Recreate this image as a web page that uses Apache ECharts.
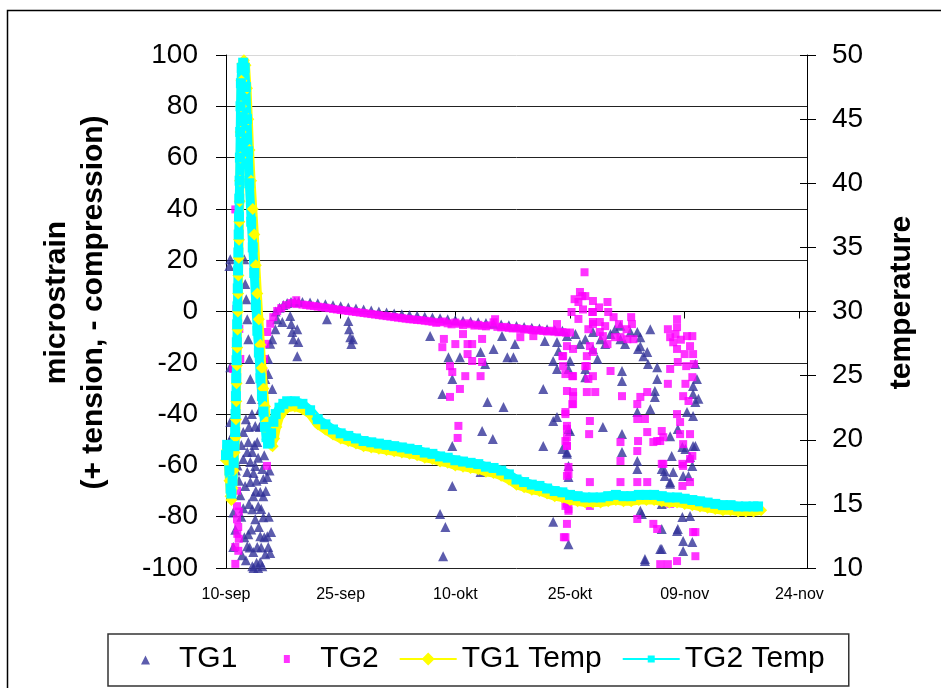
<!DOCTYPE html>
<html>
<head>
<meta charset="utf-8">
<script src="https://cdn.jsdelivr.net/npm/echarts@6/dist/echarts.min.js"></script>
<style>
	html, body { margin: 0; padding: 0; background: #fff; }
	#myChart { width: 941px; height: 688px; }
</style>
</head>
<body>
<div id="myChart"></div>
<script>
	// x = days after 10-sep
	var xTicks = ['10-sep', '25-sep', '10-okt', '25-okt', '09-nov', '24-nov'];

	var tg1 = [
		[0.43, 17.7], [0.56, 20.4], [0.56, -21.7], [0.56, -43.1], [0.78, -48.4], [0.95, -47.8], [0.95, -53.6], [0.95, -78.4], [0.95, -91.8], [1.22, -85.1], [1.87, -71.6],
		[2.26, -47.0], [2.26, -57.5], [2.26, -76.7], [2.39, 20.4], [2.52, 10.7], [2.65, 4.8], [2.78, -3.0], [2.78, -54.8], [2.78, -62.6], [2.78, -91.5], [2.92, -10.8], [2.92, -50.9], [2.92, -86.8],
		[3.05, -18.5], [3.18, -26.3], [3.18, -58.7], [3.18, -66.5], [3.31, -34.1], [3.44, -54.8], [3.44, -77.1], [3.44, -99.3], [3.57, -72.0], [3.57, -93.8], [3.83, -44.6], [3.83, -60.2], [3.83, -81.0],
		[4.09, -50.9], [4.09, -91.8], [4.22, -75.9], [4.48, -70.4], [4.48, -87.6], [4.48, -97.7], [4.75, -34.1], [4.75, -61.4], [4.75, -99.3], [4.88, -30.2], [4.88, -65.3], [4.88, -72.0], [4.88, -80.2],
		[5.14, -26.3], [5.14, -94.6], [5.40, -64.5], [5.40, -87.6], [5.53, -18.5], [5.53, -24.4], [5.53, -91.8], [5.79, -12.6], [5.79, -94.2], [6.05, -10.8], [6.05, -30.2], [6.45, -6.9], [6.7, -3.0], [7.37, -4.1],
		[1.5, -60.0], [1.7, -66.0], [2.0, -80.0], [2.1, -95.0], [2.4, -88.0], [2.5, -68.0], [2.6, -97.0], [3.0, -75.0], [3.0, -45.0], [3.3, -85.0], [3.6, -63.0], [3.7, -52.0], [3.9, -70.0],
		[4.0, -98.0], [4.2, -57.0], [4.3, -84.0], [4.4, -45.0], [4.6, -77.0], [4.6, -92.0], [5.0, -56.0], [5.0, -88.0], [5.2, -70.0], [5.3, -48.0], [5.6, -80.0], [5.7, -62.0], [2.0, -52.0],
		[1.3, -62.0], [3.1, -92.0], [4.0, -66.0], [5.9, -86.0], [3.4, -40.0], [4.5, -38.0], [5.0, -42.0], [2.6, -42.0], [3.6, -100.0], [4.2, -100.0],
		[8.4, -1.8], [8.54, -4.9], [8.67, -8.0], [8.8, -10.8], [9.32, -6.9], [9.46, -11.9], [9.32, -17.4], [13.2, -3.0], [16.0, -3.7], [16.1, -6.9], [16.25, -10.0], [16.4, -12.7], [16.6, -10.8],
		[6.5, 0.0], [7, 1.5], [7.5, 2.5], [8, 3.3], [8.5, 3.7], [9, 3.8], [9.5, 3.8], [10, 3.7], [11, 3.5], [12, 3.2], [13, 2.8], [14, 2.4], [15, 2.0], [16, 1.6], [17, 1.2], [18, 0.8], [19, 0.4], [20, 0.0],
		[21, -0.4], [22, -0.8], [23, -1.1], [24, -1.4], [25, -1.7], [26, -2.0], [27, -2.3], [28, -2.6], [29, -3.0], [30, -3.3], [31, -3.6], [32, -3.9], [33, -4.2], [34, -4.5], [35, -4.8],
		[36, -5.1], [37, -5.4], [38, -5.7], [39, -6.0], [40, -6.3], [41, -6.6], [42, -6.9], [43, -7.2], [44, -7.5],
		[26.7, -9.6], [29.1, -17.8], [30.6, -17.8], [29.6, -26.3], [28.3, -32.2], [33.3, -15.8], [33.9, -20.5], [35.0, -14.6], [34.2, -35.3], [36.3, -37.2], [36.8, -17.8], [37.6, -17.8], [37.8, -12.7],
		[36.1, -9.6], [33.5, -46.6], [34.9, -49.7], [29.6, -52.4], [29.6, -68.0], [28.0, -78.9], [28.7, -84.0], [28.4, -95.4], [41.5, -30.2], [41.5, -52.4], [42.8, -42.7], [43.3, -41.1], [42.8, -82.0],
		[44.0, -53.6], [44.6, -55.5], [44.8, -60.2], [44.8, -64.5], [44.8, -90.7], [45.0, -46.6], [41.7, -11.5], [43.3, -11.9], [43.5, -15.4], [42.8, -19.3], [43.3, -22.4], [44.8, -22.4], [45.0, -19.3],
		[47.0, -22.4], [47.0, -25.6], [48.6, -18.5], [48.0, -8.0], [33.3, -62.6], [44.8, -45.8], [44.6, -54.8],
		[44.6, -9.6], [45.7, -8.8], [46.3, -12.7], [47.0, -10.8], [48.0, -14.6], [49.0, -10.8], [49.6, -12.7], [50.3, -8.8], [50.9, -6.9], [51.6, -10.8], [52.2, -12.7], [52.9, -8.0], [53.8, -8.0], [54.6, -17.4], [55.5, -6.9],
		[51.6, -5.6], [54.2, -10.0], [54.2, -13.5], [55.1, -15.8], [55.2, -20.5], [56.4, -21.7], [51.8, -23.2], [51.8, -27.1], [56.4, -26.3], [56.1, -31.0], [56.1, -33.3], [55.5, -38.0], [53.8, -39.2],
		[49.3, -45.0], [51.8, -47.8], [51.8, -54.8], [53.8, -58.3], [53.8, -61.4], [58.1, -48.6], [58.3, -56.3], [57.0, -61.4], [57.4, -64.1], [58.1, -66.5], [59.1, -45.8], [60.1, -53.6], [60.7, -56.7],
		[61.0, -60.2], [59.8, -64.1], [60.5, -64.1], [61.4, -52.4], [61.1, -40.7], [61.4, -35.3], [61.1, -32.2], [61.1, -29.0], [60.3, -39.2], [54.4, -78.9], [57.0, -84.8], [56.8, -92.6], [54.8, -96.5],
		[59.1, -84.8], [59.7, -80.1], [60.7, -79.7], [59.8, -89.5], [61.0, -89.9], [59.8, -93.4], [57.0, -75.0], [53.9, -14.6], [57.4, -62.2], [58.5, -62.6], [61.1, -52.4], [59.7, -52.8], [58.1, -67.2],
		[59.0, -85.6], [57.0, -92.6], [54.2, -77.7], [54.8, -97.3], [61.4, -20.5], [61.6, -26.3], [61.8, -34.0]
	];

	var tg2 = [
		[1.22, -98.4], [1.61, -93.3], [1.48, -86.7], [1.67, -88.6], [1.44, -81.0], [1.44, -75.9], [1.22, -91.8], [1.44, -69.9], [1.67, -78.0], [1.6, -84.0],
		[1.22, 39.8], [1.6, 28.0], [1.5, 8.7], [1.74, -6.8], [1.87, -18.5], [0.95, -22.4], [1.35, 1.0], [5.36, -60.2],
		[4.88, -23.6], [5.0, -18.5], [5.14, -12.6], [5.4, -8.0], [5.79, -4.8], [6.18, -2.2], [6.7, 0.2], [7.23, 1.3], [7.88, 2.5], [8.54, 3.3], [9.19, 4.4], [9.19, 2.9],
		[10, 2.7], [10.5, 2.5], [11, 2.3], [11.5, 2.1], [12, 1.9], [12.5, 1.7], [13, 1.5], [13.5, 1.3], [14, 1.0], [14.5, 0.8], [15, 0.6], [15.5, 0.4], [16, 0.2], [16.5, 0.0],
		[17, -0.2], [17.5, -0.4], [18, -0.6], [18.5, -0.8], [19, -1.0], [19.5, -1.2], [20, -1.4], [20.5, -1.6], [21, -1.8], [21.5, -2.0], [22, -2.2], [22.5, -2.4], [23, -2.6], [23.5, -2.8],
		[24, -3.0], [24.5, -3.1], [25, -3.3], [25.5, -3.4], [26, -3.6], [26.5, -3.8], [27, -4.0], [27.5, -4.4], [28, -4.2], [28.5, -3.9], [29, -4.6], [29.5, -5.0], [30, -4.3], [30.5, -4.8],
		[31, -5.3], [31.5, -4.6], [32, -5.0], [32.5, -5.5], [33, -5.2], [33.5, -5.6], [34, -5.8], [34.5, -5.4], [35, -4.2], [35.5, -6.0], [36, -6.2], [36.5, -6.0], [37, -6.4], [37.5, -6.6],
		[38, -6.5], [38.5, -6.8], [39, -7.0], [39.5, -6.9], [40, -7.2], [40.5, -7.4], [41, -7.3], [41.5, -7.6], [42, -7.8], [42.5, -7.5], [43, -7.9], [43.5, -8.1], [44, -8.0], [44.5, -8.3], [45, -8.2],
		[28.5, -10.7], [28.3, -13.9], [29.3, -21.3], [29.6, -23.6], [29.3, -33.3], [30.6, -30.2], [30.0, -12.7], [31.0, -8.8], [31.6, -12.7], [32.2, -12.7], [31.6, -16.6], [32.2, -19.3], [33.5, -19.7],
		[33.3, -25.2], [31.3, -25.2], [33.5, -10.7], [30.4, -44.6], [30.3, -49.3], [35.2, -3.0], [38.5, -10.0], [40.2, -9.6], [43.3, -4.9],
		[44.0, -17.4], [44.1, -21.3], [44.4, -24.4], [45.3, -25.2], [45.4, -31.4], [45.3, -36.1], [44.4, -40.0], [44.6, -44.6], [44.4, -50.5], [44.6, -52.4], [44.8, -63.4], [44.4, -75.8], [44.8, -77.0],
		[44.6, -82.8], [44.2, -88.0], [47.2, -17.4], [47.0, -21.3], [47.4, -26.3], [47.2, -31.4], [47.6, -42.7], [47.5, -47.8], [47.6, -66.5], [47.6, -75.8], [48.0, -15.8], [48.0, -4.1], [47.9, -0.2],
		[46.3, 7.6], [46.9, 15.3], [46.6, 6.0], [47.0, 6.0], [46.1, 3.7], [48.0, 4.1], [48.0, -0.2], [49.9, 3.7], [50.0, -0.2], [49.6, -5.7], [48.9, -4.1], [48.0, -4.9], [49.3, -9.6], [49.9, -12.7],
		[51.6, -10.0], [52.5, -10.8], [53.1, -4.9], [53.3, -10.8], [47.6, -13.5], [47.2, -21.3], [48.0, -25.2], [48.3, -31.4], [51.8, -33.0], [50.3, -23.2], [45.4, -14.6], [44.6, -13.5], [44.1, -17.4],
		[45.4, -25.2], [44.6, -31.0], [45.4, -33.0], [45.4, -36.1], [44.4, -39.2], [44.6, -45.8], [44.6, -49.0], [44.6, -52.4], [44.8, -60.6], [44.6, -64.1], [44.6, -75.0], [44.8, -77.7], [44.4, -88.0],
		[45.6, 4.8], [46.7, 0.8], [48.8, 1.6], [50.7, -2.2], [51.4, -4.9], [52.4, -6.9], [53.0, -2.2], [48.9, -8.0], [50.9, -10.0], [47.4, -6.9], [46.1, -2.9], [45.2, -0.2],
		[53.8, -36.1], [54.2, -33.3], [55.1, -31.4], [53.8, -41.9], [54.8, -41.9], [55.1, -47.0], [55.9, -50.9], [56.4, -50.5], [56.8, -50.5], [57.2, -49.0], [57.0, -46.6], [53.9, -50.5], [53.8, -54.4],
		[51.6, -50.9], [51.6, -58.3], [51.6, -66.5], [53.8, -66.5], [55.1, -66.5], [53.8, -80.9], [55.9, -82.8], [56.4, -84.8], [56.8, -98.5], [57.8, -98.5], [59.0, -97.3], [57.2, -59.4],
		[57.8, -6.9], [58.1, -10.0], [59.0, -3.0], [59.0, -14.6], [59.1, -19.7], [58.1, -22.4], [57.8, -28.2], [60.3, -9.6], [61.0, -9.6], [60.7, -13.5], [61.1, -16.6], [61.0, -25.6], [60.1, -28.2],
		[59.8, -33.0], [60.5, -34.9], [59.0, -40.0], [59.4, -43.1], [60.7, -47.8], [59.4, -47.8], [59.8, -51.7], [61.0, -56.3], [59.8, -60.2], [60.7, -66.5], [61.4, -86.0], [61.4, -95.4], [59.0, -6.1],
		[61.1, -86.0], [58.1, -75.0], [59.7, -68.0], [60.7, -57.5], [59.7, -59.4], [57.0, -59.4], [58.5, -12.0], [59.5, -11.0], [60.0, -16.6], [58.8, -8.8], [61.2, -20.5], [60.2, -21.3]
	];

	var tg1Temp = [
		[0.0, 18.4], [0.15, 19.2], [0.3, 18.4], [0.45, 16.8], [0.6, 15.6], [0.7, 15.3], [0.85, 16.2], [1.0, 17.6], [1.12, 19.0], [1.25, 20.2], [1.3, 21.6], [1.35, 23.0], [1.39, 24.4],
		[1.43, 25.8], [1.47, 27.2], [1.51, 28.6], [1.55, 30.0], [1.59, 31.4], [1.63, 32.8], [1.67, 34.2], [1.71, 35.6], [1.75, 37.0], [1.79, 38.6], [1.83, 40.2], [1.87, 42.0], [1.91, 44.0],
		[1.96, 46.0], [2.02, 48.0], [2.15, 49.3], [2.35, 49.6], [2.55, 49.2], [2.75, 47.4], [2.92, 45.0], [3.08, 42.6], [3.28, 40.2], [3.5, 38.0], [3.7, 36.0], [3.9, 33.6], [4.1, 31.4], [4.3, 29.4],
		[4.5, 27.4], [4.7, 25.6], [4.9, 24.0], [5.1, 22.6], [5.3, 21.4], [5.5, 20.6], [5.7, 20.0], [5.9, 19.6], [6.1, 19.5], [6.3, 20.1], [6.6, 21.0], [7.0, 21.8], [7.5, 22.2], [8.0, 22.5],
		[9.0, 22.6], [10.0, 22.4], [11.0, 22.0], [12.0, 21.2], [13.0, 20.8], [14.0, 20.4], [15.0, 20.1], [16.0, 19.9], [17.0, 19.7], [18.0, 19.5], [19.0, 19.4], [20.0, 19.3], [21.0, 19.2],
		[22.0, 19.1], [23.0, 19.0], [24.0, 18.9], [25.0, 18.8], [26.0, 18.6], [27.0, 18.5], [28.0, 18.3], [29.0, 18.2], [30.0, 18.0], [31.0, 17.9], [32.0, 17.8], [33.0, 17.7], [34.0, 17.5],
		[35.0, 17.4], [36.0, 17.2], [37.0, 16.9], [38.0, 16.5], [39.0, 16.3], [40.0, 16.1], [41.0, 16.0], [42.0, 15.8], [43.0, 15.6], [44.0, 15.5], [45.0, 15.3], [46.0, 15.2], [47.0, 15.1],
		[48.0, 15.1], [49.0, 15.1], [50.0, 15.2], [51.0, 15.3], [52.0, 15.2], [53.0, 15.2], [54.0, 15.3], [55.0, 15.3], [56.0, 15.3], [57.0, 15.2], [58.0, 15.1], [59.0, 15.1], [60.0, 15.0],
		[61.0, 14.9], [62.0, 14.8], [63.0, 14.7], [64.0, 14.6], [65.0, 14.5], [66.0, 14.5], [67.0, 14.4], [68.0, 14.4], [69.0, 14.4], [70.0, 14.5]
	];

	var tg2Temp = [
		[0.0, 18.8], [0.15, 19.6], [0.3, 19.0], [0.45, 17.6], [0.6, 16.2], [0.7, 15.8], [0.85, 16.8], [1.0, 18.2], [1.1, 19.5], [1.2, 20.6], [1.25, 22.0], [1.3, 23.4], [1.34, 24.8],
		[1.38, 26.2], [1.42, 27.6], [1.46, 29.0], [1.5, 30.4], [1.54, 31.8], [1.58, 33.2], [1.62, 34.6], [1.66, 36.0], [1.7, 37.4], [1.74, 38.8], [1.78, 40.2], [1.82, 42.0], [1.86, 44.0],
		[1.9, 46.0], [1.95, 47.8], [2.05, 49.0], [2.25, 49.4], [2.45, 49.0], [2.6, 47.5], [2.75, 45.0], [2.9, 42.5], [3.05, 40.0], [3.3, 37.0], [3.5, 35.0], [3.7, 33.0], [3.9, 30.5], [4.1, 28.5],
		[4.3, 26.8], [4.5, 24.8], [4.7, 23.4], [4.9, 22.2], [5.1, 21.0], [5.3, 20.2], [5.5, 19.7], [5.7, 19.8], [5.9, 20.5], [6.2, 21.4], [6.5, 22.0], [7.0, 22.5], [7.5, 22.8], [8.0, 23.0],
		[9.0, 23.0], [10.0, 22.8], [11.0, 22.3], [12.0, 21.6], [13.0, 21.2], [14.0, 20.8], [15.0, 20.5], [16.0, 20.3], [17.0, 20.1], [18.0, 19.9], [19.0, 19.8], [20.0, 19.7], [21.0, 19.6],
		[22.0, 19.5], [23.0, 19.4], [24.0, 19.3], [25.0, 19.2], [26.0, 19.0], [27.0, 18.9], [28.0, 18.7], [29.0, 18.6], [30.0, 18.4], [31.0, 18.3], [32.0, 18.2], [33.0, 18.1], [34.0, 17.9],
		[35.0, 17.8], [36.0, 17.6], [37.0, 17.3], [38.0, 16.9], [39.0, 16.7], [40.0, 16.5], [41.0, 16.4], [42.0, 16.2], [43.0, 16.0], [44.0, 15.9], [45.0, 15.7], [46.0, 15.6], [47.0, 15.5],
		[48.0, 15.5], [49.0, 15.5], [50.0, 15.6], [51.0, 15.7], [52.0, 15.6], [53.0, 15.6], [54.0, 15.7], [55.0, 15.7], [56.0, 15.7], [57.0, 15.6], [58.0, 15.5], [59.0, 15.5], [60.0, 15.4],
		[61.0, 15.3], [62.0, 15.2], [63.0, 15.1], [64.0, 15.0], [65.0, 14.9], [66.0, 14.9], [67.0, 14.8], [68.0, 14.8], [69.0, 14.8], [69.6, 14.8]
	];

	var font = 'Liberation Sans, Arial, sans-serif';
	var gridColors = ['#222', '#222', '#222', '#222', '#222', '#222', '#222', '#222', '#222', '#222', '#d8d8d8'];

	var myChart = echarts.init(document.getElementById('myChart'), null, { renderer: 'canvas' });
	myChart.setOption({
		animation: false,
		backgroundColor: '#fff',
		textStyle: { fontFamily: font },
		graphic: [{
			type: 'rect',
			shape: { x: 7.5, y: 10.5, width: 1000, height: 1000 },
			style: { fill: 'none', stroke: '#000', lineWidth: 1.5 },
			silent: true
		}],
		grid: {
			left: 226,
			right: 134,
			top: 55,
			bottom: 120,
			containLabel: false,
			outerBoundsMode: 'none'
		},
		legend: {
			left: 108,
			top: 634,
			padding: [10, 24, 12, 9],
			borderColor: '#333',
			borderWidth: 1.5,
			itemWidth: 57,
			itemHeight: 14,
			itemGap: 21,
			textStyle: { fontSize: 30, color: '#000', fontFamily: font },
			data: [
				{ name: 'TG1', icon: 'path://M0,0M57,14M24,12.5L28.5,3.5L33,12.5Z' },
				{ name: 'TG2', icon: 'path://M0,0M57,14M25.5,3L31.5,3L31.5,11L25.5,11Z' },
				{ name: 'TG1 Temp', icon: 'path://M0,0M57,14M0,6L57,6L57,8L0,8Z M22,7L28.5,0.5L35,7L28.5,13.5Z' },
				{ name: 'TG2 Temp', icon: 'path://M0,0M57,14M0,6L57,6L57,8L0,8Z M25,3.5L32,3.5L32,10.5L25,10.5Z' }
			]
		},
		xAxis: {
			type: 'value',
			min: 0,
			max: 76,
			interval: 15,
			axisLine: { lineStyle: { color: '#000', width: 1 } },
			axisTick: { length: 7, lineStyle: { color: '#000' }, customValues: [0, 15, 30, 45, 60, 75] },
			axisLabel: {
				customValues: [0, 15, 30, 45, 60, 75],
				formatter: function(v) { return xTicks[Math.round(v / 15)]; },
				fontSize: 16,
				color: '#000',
				margin: 19
			},
			splitLine: { show: false }
		},
		yAxis: [{
				type: 'value',
				position: 'left',
				min: -100,
				max: 100,
				interval: 20,
				name: 'microstrain\n(+ tension, - compression)',
				nameLocation: 'middle',
				nameRotate: 90,
				nameGap: 114,
				nameTextStyle: { fontSize: 30, fontWeight: 'bold', color: '#000', lineHeight: 37, fontFamily: font, padding: [0, 0, 0, 18] },
				axisLine: { show: true, lineStyle: { color: '#000' } },
				axisTick: { show: true, length: 10, lineStyle: { color: '#000' } },
				axisLabel: { fontSize: 28, color: '#000', margin: 28 },
				splitLine: { show: true, lineStyle: { color: gridColors, width: 1 } }
			},
			{
				type: 'value',
				position: 'right',
				min: 10,
				max: 50,
				interval: 5,
				name: 'temperature',
				nameLocation: 'middle',
				nameRotate: 90,
				nameGap: 80,
				nameTextStyle: { fontSize: 30, fontWeight: 'bold', color: '#000', fontFamily: font, padding: [0, 0, 0, 18] },
				axisLine: { show: true, lineStyle: { color: '#000' } },
				axisTick: { show: true, length: 9, lineStyle: { color: '#000' } },
				axisLabel: { fontSize: 28, color: '#000', margin: 25 },
				splitLine: { show: false }
			},
			{
				type: 'value',
				position: 'right',
				min: 10,
				max: 50,
				interval: 5,
				axisLine: { show: false },
				axisTick: { show: true, inside: true, length: 7, lineStyle: { color: '#000' } },
				axisLabel: { show: false },
				splitLine: { show: false }
			}
		],
		series: [{
				name: 'TG1',
				type: 'scatter',
				data: tg1,
				symbol: 'triangle',
				symbolSize: 10,
				itemStyle: { color: '#333399' }
			},
			{
				name: 'TG2',
				type: 'scatter',
				data: tg2,
				symbol: 'rect',
				symbolSize: 8,
				itemStyle: { color: '#FF00FF' }
			},
			{
				name: 'TG1 Temp',
				type: 'line',
				yAxisIndex: 1,
				data: tg1Temp,
				symbol: 'diamond',
				symbolSize: 12,
				showAllSymbol: true,
				itemStyle: { color: '#FFFF00' },
				lineStyle: { color: '#FFFF00', width: 9 }
			},
			{
				name: 'TG2 Temp',
				type: 'line',
				yAxisIndex: 1,
				data: tg2Temp,
				symbol: 'rect',
				symbolSize: 10,
				showAllSymbol: true,
				itemStyle: { color: '#00FFFF' },
				lineStyle: { color: '#00FFFF', width: 9 }
			}
		]
	});
</script>
</body>
</html>
